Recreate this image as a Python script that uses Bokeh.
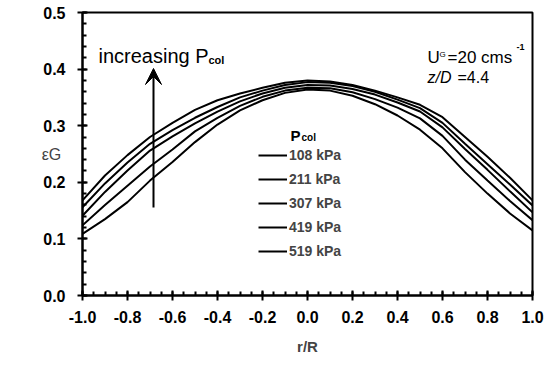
from bokeh.plotting import figure
from bokeh.models import (Label, Legend, LegendItem, Arrow, VeeHead, Range1d,
                          SingleIntervalTicker, NumeralTickFormatter)
from bokeh.embed import file_html
from bokeh.resources import INLINE

# radial position r/R
r = [-1.0, -0.9, -0.8, -0.7, -0.6, -0.5, -0.4, -0.3, -0.2, -0.1, 0.0,
     0.1, 0.2, 0.3, 0.4, 0.5, 0.6, 0.7, 0.8, 0.9, 1.0]

# gas holdup profiles for each column pressure
eps_108 = [0.109, 0.135, 0.165, 0.203, 0.236, 0.271, 0.302, 0.327, 0.345, 0.358, 0.364,
           0.362, 0.353, 0.338, 0.318, 0.293, 0.260, 0.218, 0.180, 0.145, 0.115]
eps_211 = [0.124, 0.160, 0.194, 0.228, 0.258, 0.290, 0.314, 0.335, 0.351, 0.362, 0.367,
           0.366, 0.359, 0.347, 0.332, 0.313, 0.282, 0.240, 0.203, 0.167, 0.133]
eps_307 = [0.141, 0.183, 0.221, 0.256, 0.281, 0.304, 0.325, 0.343, 0.357, 0.367, 0.372,
           0.371, 0.365, 0.355, 0.341, 0.325, 0.297, 0.259, 0.222, 0.184, 0.147]
eps_419 = [0.156, 0.198, 0.235, 0.268, 0.292, 0.314, 0.333, 0.350, 0.362, 0.372, 0.377,
           0.376, 0.370, 0.360, 0.346, 0.331, 0.305, 0.268, 0.232, 0.196, 0.159]
eps_519 = [0.168, 0.212, 0.248, 0.280, 0.305, 0.328, 0.345, 0.357, 0.367, 0.376, 0.380,
           0.378, 0.372, 0.362, 0.350, 0.337, 0.315, 0.280, 0.245, 0.208, 0.168]

series_labels = ["108 kPa", "211 kPa", "307 kPa", "419 kPa", "519 kPa"]
series = [eps_108, eps_211, eps_307, eps_419, eps_519]

FONT = "Liberation Sans"

W, H = 553, 369
LEFT, RIGHT, TOP, BOTTOM = 82, 21, 12, 74

p = figure(width=W, height=H, output_backend="svg", toolbar_location=None,
           x_range=Range1d(-1.0, 1.0), y_range=Range1d(0.0, 0.5),
           min_border_left=LEFT, min_border_right=RIGHT,
           min_border_top=TOP, min_border_bottom=BOTTOM)
p.grid.visible = False
p.outline_line_color = "black"
p.outline_line_width = 2
p.background_fill_color = "white"
p.border_fill_color = "white"

# axes
p.xaxis.ticker = SingleIntervalTicker(interval=0.2, num_minor_ticks=4)
p.yaxis.ticker = SingleIntervalTicker(interval=0.1, num_minor_ticks=5)
p.xaxis.formatter = NumeralTickFormatter(format="0.0")
p.yaxis.formatter = NumeralTickFormatter(format="0.0")
for ax in (p.xaxis[0], p.yaxis[0]):
    ax.axis_line_width = 2
    ax.axis_line_color = "black"
    ax.major_tick_line_width = 2
    ax.minor_tick_line_width = 2
    ax.major_tick_in = 5
    ax.major_tick_out = 5
    ax.minor_tick_in = 4
    ax.minor_tick_out = 0
    ax.major_label_text_font = FONT
    ax.major_label_text_font_style = "bold"
    ax.major_label_text_font_size = "16px"
    ax.major_label_text_color = "black"
p.xaxis.major_label_standoff = 10
p.yaxis.major_label_standoff = 12
p.xaxis.axis_label = "r/R"
p.xaxis.axis_label_text_font = FONT
p.xaxis.axis_label_text_font_style = "bold"
p.xaxis.axis_label_text_font_size = "15px"
p.xaxis.axis_label_standoff = 12

p.yaxis.axis_label = "\u03b5G"
p.yaxis.axis_label_orientation = "horizontal"
p.yaxis.axis_label_text_font = FONT
p.yaxis.axis_label_text_font_style = "normal"
p.yaxis.axis_label_text_font_size = "16px"
p.yaxis.axis_label_standoff = -21

# profiles
renderers = []
for ys in series:
    renderers.append(p.line(r, ys, line_color="black", line_width=2))

legend = Legend(items=[LegendItem(label=lab, renderers=[rr])
                       for lab, rr in zip(series_labels, renderers)],
                location=(176, 34), orientation="vertical",
                padding=0, margin=0, spacing=4,
                glyph_width=29, glyph_height=20, label_standoff=2,
                label_text_font=FONT, label_text_font_style="bold",
                label_text_font_size="14px", label_height=20,
                border_line_color=None, background_fill_alpha=0)
p.add_layout(legend)


def px(x, y):
    """Canvas pixel position -> data coordinates."""
    return (x - LEFT) / 225.0 - 1.0, (H - BOTTOM - y) / 566.0


def text(x, y, s, size, style="normal", align="left", baseline="alphabetic"):
    dx, dy = px(x, y)
    p.add_layout(Label(x=dx, y=dy, text=s, text_font=FONT, text_font_style=style,
                       text_font_size=size, text_color="black",
                       text_align=align, text_baseline=baseline))


# legend title
text(290, 135, "P", "15px", "bold")
text(301, 137, "col", "10px", "bold")

# trend annotation
text(98, 55, "increasing P", "20px")
text(208, 59, "col", "11px", "bold")
ax0, ay0 = px(153, 207)
ax1, ay1 = px(153, 68)
p.add_layout(Arrow(end=VeeHead(size=16, fill_color="black", line_color="black", line_width=1),
                   x_start=ax0, y_start=ay0, x_end=ax1, y_end=ay1,
                   line_width=2, line_color="black"))

# operating conditions
text(427, 57, "U", "17px")
text(439, 54, "G", "8px")
text(447, 57, "=20 cms", "17px")
text(516, 46, "-1", "9px", "bold")
text(427, 77, "z/D", "16px", "italic")
text(457, 77, "=4.4", "16px")

open("out.html", "w").write(file_html(p, INLINE))
